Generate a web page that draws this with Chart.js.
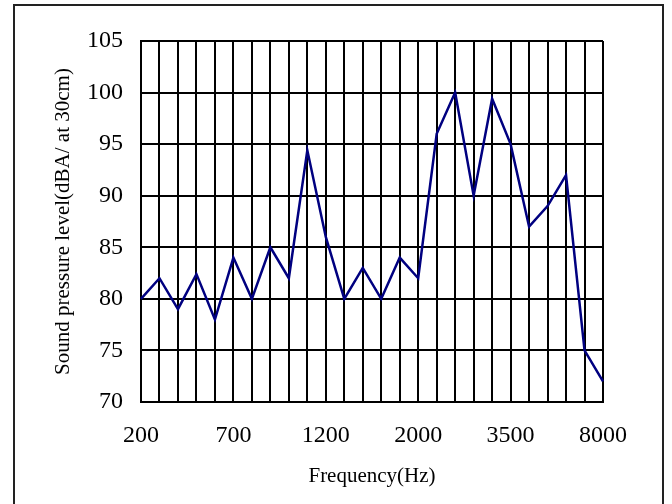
<!DOCTYPE html>
<html>
<head>
<meta charset="utf-8">
<script src="https://cdn.jsdelivr.net/npm/chart.js@4.4.1/dist/chart.umd.min.js"></script>
<style>
  body { margin: 0; background: #fff; }
</style>
</head>
<body>
<canvas id="splChart" width="672" height="504"></canvas>
<script>
// Frequencies (Hz) along the x axis, only some of them get a label
const frequencies = [200, 300, 400, 500, 600, 700, 800, 900, 1000, 1100,
  1200, 1300, 1400, 1600, 1800, 2000, 2250, 2500, 2800, 3150,
  3500, 4000, 5000, 6000, 7000, 8000];
const shownLabels = ['200', '700', '1200', '2000', '3500', '8000'];

// Sound pressure level (dBA at 30cm)
const splValues = [80, 82, 79, 82.4, 78, 84, 80, 85, 82, 94.4,
  86, 80, 83, 80, 84, 82, 96, 100, 90, 99.4,
  95, 87, 89, 92, 75, 72];

// y axis range
const yMin = 70;
const yMax = 105;
const yStep = 5;

// outer frame round the whole chart
const framePlugin = {
  id: 'frame',
  beforeDraw(chart) {
    const ctx = chart.ctx;
    ctx.save();
    ctx.fillStyle = '#fff';
    ctx.fillRect(0, 0, chart.width, chart.height);
    ctx.strokeStyle = '#222';
    ctx.lineWidth = 2;
    ctx.strokeRect(14, 5, 649, 520);
    ctx.restore();
  }
};

const ctx = document.getElementById('splChart').getContext('2d');
const splChart = new Chart(ctx, {
  type: 'line',
  data: {
    labels: frequencies.map(String),
    datasets: [{
      label: 'Sound pressure level',
      data: splValues,
      borderColor: '#000080',
      borderWidth: 2.5,
      pointRadius: 0,
      fill: false,
      tension: 0
    }]
  },
  options: {
    responsive: false,
    animation: false,
    layout: {
      padding: { left: 51, right: 69, top: 41, bottom: 0 }
    },
    plugins: {
      legend: { display: false },
      tooltip: { enabled: false }
    },
    scales: {
      x: {
        offset: false,
        grid: { color: '#000', lineWidth: 2, drawTicks: false },
        border: { display: true, color: '#000', width: 2 },
        ticks: {
          autoSkip: false,
          maxRotation: 0,
          padding: 19,
          color: '#000',
          font: { family: 'Liberation Serif', size: 24 },
          callback: function(value, index) {
            const lbl = this.getLabelForValue(value);
            return shownLabels.includes(lbl) ? lbl : '';
          }
        },
        title: {
          display: true,
          text: 'Frequency(Hz)',
          color: '#000',
          font: { family: 'Liberation Serif', size: 21 },
          padding: { top: 0, bottom: 15 }
        },
        afterFit(scale) { scale.height = 102; }
      },
      y: {
        min: yMin,
        max: yMax,
        grid: { color: '#000', lineWidth: 2, drawTicks: false },
        border: { display: true, color: '#000', width: 2 },
        ticks: {
          stepSize: yStep,
          padding: 18,
          color: '#000',
          font: { family: 'Liberation Serif', size: 24 }
        },
        title: {
          display: true,
          text: 'Sound pressure level(dBA/ at 30cm)',
          color: '#000',
          font: { family: 'Liberation Serif', size: 21 },
          padding: { top: 0, bottom: 0 }
        },
        afterFit(scale) { scale.width = 90; }
      }
    }
  },
  plugins: [framePlugin]
});
</script>
</body>
</html>
